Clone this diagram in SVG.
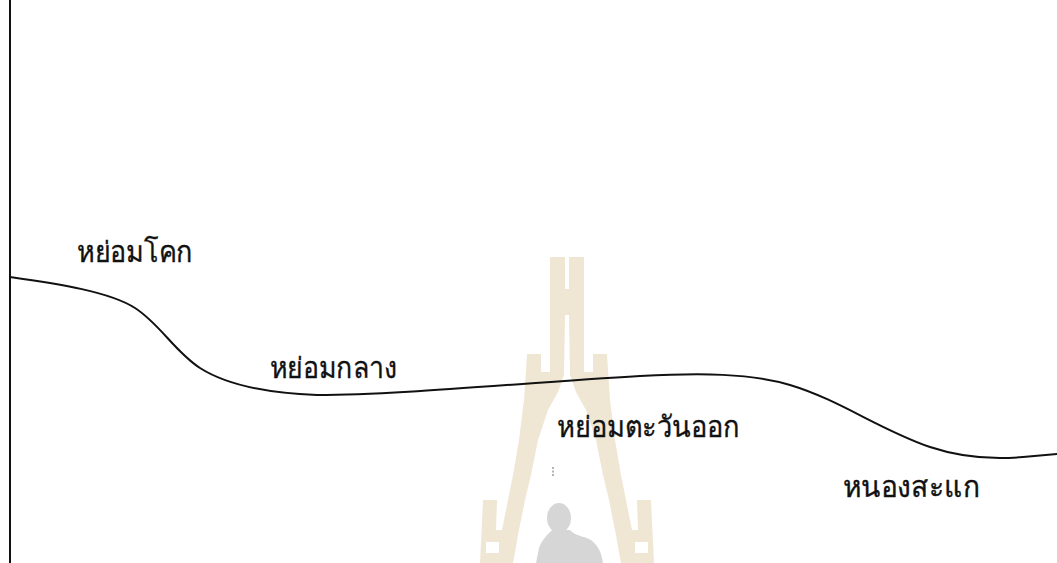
<svg xmlns="http://www.w3.org/2000/svg" width="1057" height="563" viewBox="0 0 1057 563">
<style>
.wm{fill:#efe6d4}
.hole{fill:#ffffff}
.lbl{font-family:"DejaVu Sans","Noto Sans",sans-serif;font-size:29px;fill:#111111;stroke:#111111;stroke-width:0.35}
.line{fill:none;stroke:#111111;stroke-width:2;stroke-linecap:round}
</style>
<rect width="1057" height="563" fill="#ffffff"/>
<g id="watermark">
<path class="wm" d="M550,257 L565,257 L565,289 L569,289 L569,257 L584,257 L584,354 L607,354 L610,400 L615,440 L621,475 L626,500 L632,530 L637,563 L621,563 L615,530 L609,500 L603,475 L596,440 L586,410 L576,392 L570,375 L569,315 L565,315 L564,375 L558,392 L548,410 L538,440 L531,475 L525,500 L519,530 L513,563 L497,563 L502,530 L508,500 L513,475 L519,440 L524,400 L527,354 L550,354 Z"/>
<rect class="hole" x="541" y="354" width="9" height="18"/>
<rect class="hole" x="584" y="354" width="9" height="18"/>
<path class="wm" d="M483,500 L497,500 L496,530 L505,530 L500,563 L480,563 Z"/>
<rect class="hole" x="486" y="542" width="13" height="11"/>
<path class="wm" d="M651,500 L637,500 L638,530 L629,530 L634,563 L654,563 Z"/>
<rect class="hole" x="635" y="542" width="13" height="11"/>
<ellipse cx="559" cy="518" rx="12" ry="15" fill="#d6d6d6"/>
<path d="M552,530 C547,535 542,540 539,548 L536,563 L603,563 C602,555 599,546 591,540 C584,536 575,536 570,530 Z" fill="#d6d6d6"/>
<line x1="553" y1="467" x2="553" y2="476" stroke="#666666" stroke-width="1" stroke-dasharray="2,1.5"/>
</g>
<g id="connectors">
<line class="line" x1="10" y1="0" x2="10" y2="563"/>
<path class="line" d="M10,277 C60,284 110,292 135,308 C160,324 175,352 200,368 C225,384 265,393 317,395 C400,395 520,383 640,376 C700,373 750,373 790,385 C840,400 880,430 930,447 C960,457 990,460 1023,457 L1057,454"/>
</g>
<g id="node-yomkhok"><text class="lbl" x="77" y="262" textLength="116" lengthAdjust="spacingAndGlyphs">หย่อมโคก</text></g>
<g id="node-yomklang"><text class="lbl" x="270" y="378" textLength="127" lengthAdjust="spacingAndGlyphs">หย่อมกลาง</text></g>
<g id="node-yomtawanok"><text class="lbl" x="557" y="437" textLength="183" lengthAdjust="spacingAndGlyphs">หย่อมตะวันออก</text></g>
<g id="node-nongsakae"><text class="lbl" x="843" y="497" textLength="137" lengthAdjust="spacingAndGlyphs">หนองสะแก</text></g>
</svg>
